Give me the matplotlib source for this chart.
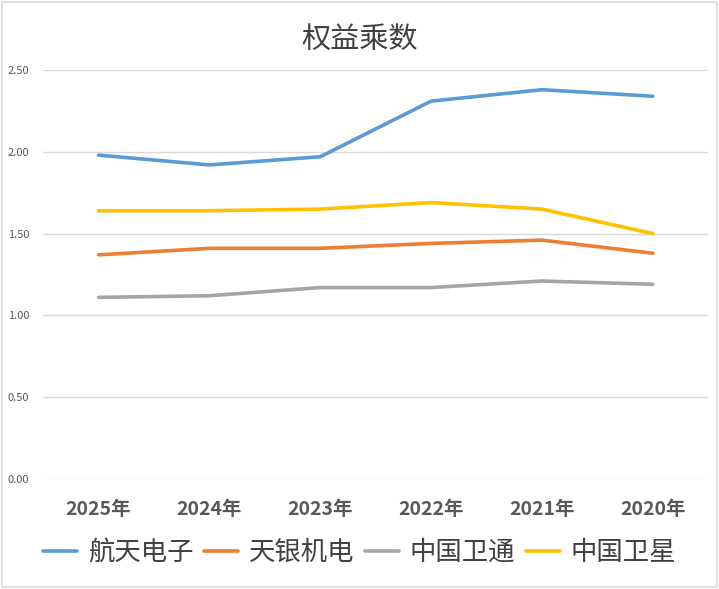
import matplotlib
matplotlib.use("Agg")
import matplotlib.pyplot as plt
import numpy as np

plt.rcParams['font.family'] = ['Noto Sans CJK SC', 'DejaVu Sans']

# data
years = ["2025年", "2024年", "2023年", "2022年", "2021年", "2020年"]
hangtian = [1.98, 1.92, 1.97, 2.31, 2.38, 2.34]
tianyin = [1.37, 1.41, 1.41, 1.44, 1.46, 1.38]
zhongguo_weitong = [1.11, 1.12, 1.17, 1.17, 1.21, 1.19]
zhongguo_weixing = [1.64, 1.64, 1.65, 1.69, 1.65, 1.50]

series = [
    ("航天电子", hangtian, "#5b9bd5"),
    ("天银机电", tianyin, "#ed7d31"),
    ("中国卫通", zhongguo_weitong, "#a5a5a5"),
    ("中国卫星", zhongguo_weixing, "#ffc000"),
]

fig = plt.figure(figsize=(7.19, 5.89), dpi=100)
ax = fig.add_axes([0.060, 0.187, 0.925, 0.694])

x = np.arange(len(years))
for name, vals, col in series:
    ax.plot(x, vals, color=col, linewidth=2.6, label=name, solid_capstyle="round")

ax.set_xlim(-0.5, len(years) - 0.5)
ax.set_ylim(0, 2.5)
ax.set_yticks(np.arange(0, 2.51, 0.5))
ax.set_yticklabels(["%.2f" % v for v in np.arange(0, 2.51, 0.5)])
ax.set_xticks(x)
ax.set_xticklabels(years, fontsize=14, fontweight="bold", color="#595959")
ax.tick_params(axis="y", labelsize=8, colors="#595959", length=0, pad=10)
ax.tick_params(axis="x", length=0, pad=15)
ax.grid(axis="y", color="#d9d9d9", linewidth=1)
ax.set_axisbelow(True)
for s in ax.spines.values():
    s.set_visible(False)

fig.text(0.5, 0.932, "权益乘数", ha="center", va="center", fontsize=21, color="#404040")

fig.legend(loc="center", bbox_to_anchor=(0.5, 0.062), ncol=4, frameon=False,
           fontsize=19, handlelength=1.3, handletextpad=0.4, columnspacing=0.4,
           labelcolor="#404040")

border = plt.Rectangle((0.003, 0.003), 0.994, 0.994, transform=fig.transFigure,
                       fill=False, edgecolor="#d9d9d9", linewidth=1.2)
fig.patches.append(border)

fig.savefig("out.png", dpi=100)
